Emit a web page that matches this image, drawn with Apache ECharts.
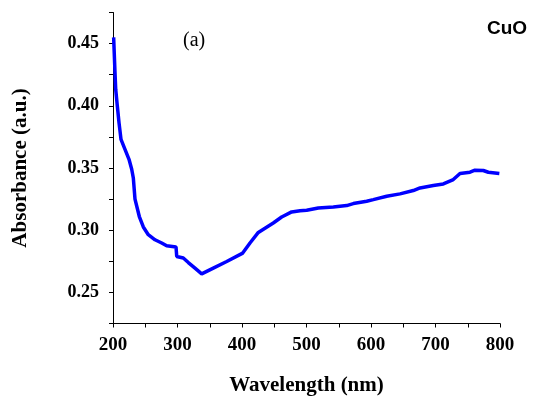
<!DOCTYPE html>
<html>
<head>
<meta charset="utf-8">
<script src="https://cdn.jsdelivr.net/npm/echarts@6/dist/echarts.min.js"></script>
<style>html,body{margin:0;padding:0;background:#fff}#c{width:536px;height:397px}</style>
</head>
<body>
<div id="c"></div>
<script>
var wavelength = [201, 203.1, 204.2, 206.7, 209.3, 212.4, 218.6, 224.8, 229, 231.5, 234.1, 240.8, 247, 254.7, 265.1, 275.5, 283.2, 297.7, 298.8, 309, 316.8, 327.1, 337.5, 355.5, 376.3, 401.1, 412.4, 425.3, 448.5, 461.5, 477, 490, 500.3, 518.3, 541.6, 562.3, 572.6, 593.3, 603.6, 624.3, 645, 665.6, 676, 696.6, 712.1, 727.6, 738, 753.5, 761.2, 774.1, 781.9, 799];
var absorbance = [0.455, 0.4268, 0.4133, 0.3998, 0.3865, 0.373, 0.365, 0.357, 0.349, 0.342, 0.325, 0.311, 0.3026, 0.2964, 0.2923, 0.2897, 0.2875, 0.2865, 0.2789, 0.2776, 0.274, 0.2695, 0.2649, 0.2695, 0.2748, 0.2816, 0.2897, 0.2982, 0.3058, 0.3106, 0.3147, 0.3157, 0.316, 0.3179, 0.3187, 0.3198, 0.3214, 0.3233, 0.3246, 0.3273, 0.3292, 0.3319, 0.334, 0.3359, 0.3372, 0.3407, 0.3456, 0.3466, 0.3482, 0.348, 0.3466, 0.3456];
var xLabels = [200, 300, 400, 500, 600, 700, 800];
var yLabels = [0.25, 0.30, 0.35, 0.40, 0.45];
var panelLabel = '(a)';
var sampleLabel = 'CuO';

var data = wavelength.map(function (w, i) { return [w, absorbance[i]]; });
var chart = echarts.init(document.getElementById('c'));
var serif = '"Liberation Serif", "Times New Roman", serif';
chart.setOption({
  animation: false,
  grid: { left: 113, right: 36, top: 12.5, bottom: 73.5, containLabel: false, outerBoundsMode: 'none' },
  xAxis: {
    type: 'value', min: 200, max: 800, interval: 50,
    axisLine: { lineStyle: { color: '#000', width: 1 } },
    axisTick: { length: 4, lineStyle: { color: '#000' } },
    splitLine: { show: false },
    axisLabel: {
      margin: 12, color: '#000', fontFamily: serif, fontWeight: 'bold', fontSize: 19,
      formatter: function (v) { return xLabels.indexOf(v) >= 0 ? String(v) : ''; }
    },
    name: 'Wavelength (nm)', nameLocation: 'middle', nameGap: 52,
    nameTextStyle: { color: '#000', fontFamily: serif, fontWeight: 'bold', fontSize: 21 }
  },
  yAxis: {
    type: 'value', min: 0.225, max: 0.475, interval: 0.025,
    axisLine: { show: true, lineStyle: { color: '#000', width: 1 } },
    axisTick: { show: true, length: 4, lineStyle: { color: '#000' } },
    splitLine: { show: false },
    axisLabel: {
      margin: 14, color: '#000', fontFamily: serif, fontWeight: 'bold', fontSize: 18,
      formatter: function (v) {
        for (var i = 0; i < yLabels.length; i++) {
          if (Math.abs(v - yLabels[i]) < 1e-6) return yLabels[i].toFixed(2);
        }
        return '';
      }
    },
    name: 'Absorbance (a.u.)', nameLocation: 'middle', nameGap: 82, nameRotate: 90,
    nameTextStyle: { color: '#000', fontFamily: serif, fontWeight: 'bold', fontSize: 21 }
  },
  series: [{
    type: 'line', data: data, showSymbol: false, smooth: false,
    lineStyle: { color: '#0000ff', width: 3.5 }
  }],
  graphic: [
    { type: 'text', left: 183, top: 31, style: { text: panelLabel, font: '20px ' + serif, fill: '#000' } },
    { type: 'text', left: 487, top: 19, style: { text: sampleLabel, font: 'bold 19px "Liberation Sans", Arial, sans-serif', fill: '#000' } }
  ]
});
</script>
</body>
</html>
